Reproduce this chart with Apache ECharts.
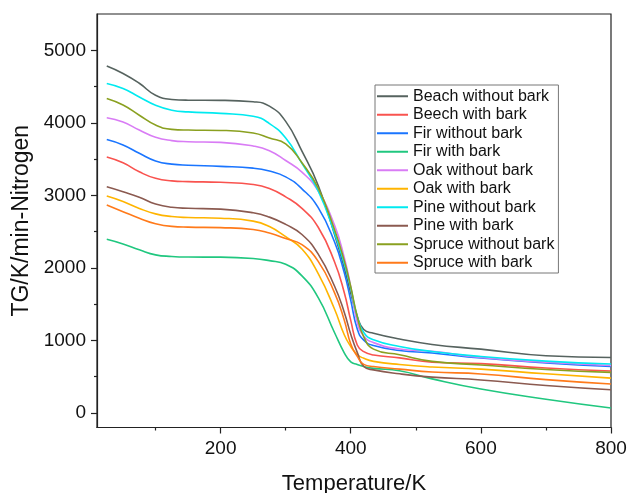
<!DOCTYPE html>
<html><head><meta charset="utf-8">
<script src="https://cdn.jsdelivr.net/npm/echarts@6/dist/echarts.min.js"></script>
<style>html,body{margin:0;padding:0;background:#fff}#c{width:627px;height:493px}</style>
</head><body><div id="c"></div>
<script>
// Temperature grid (K)
const temps = [25,50,75,100,125,150,200,250,275,300,325,350,375,390,400,410,420,435,475,525,600,700,800];

const seriesNames = ['Beach without bark','Beech with bark','Fir without bark','Fir with bark','Oak without bark','Oak with bark','Pine without bark','Pine with bark','Spruce without bark','Spruce with bark'];

const beachWithoutBark  = [4783,4680,4545,4380,4322,4312,4310,4290,4230,4020,3610,3137,2465,2003,1650,1330,1150,1100,1020,945,880,790,765];
const beechWithBark     = [3530,3450,3325,3235,3200,3190,3180,3150,3095,2980,2820,2560,2085,1660,1276,938,846,800,760,700,680,620,578];
const firWithoutBark    = [3770,3695,3580,3475,3430,3415,3400,3375,3335,3255,3090,2830,2360,1935,1552,1157,1004,930,862,826,757,690,641];
const firWithBark       = [2394,2330,2250,2180,2158,2150,2148,2130,2100,2050,1890,1590,1110,830,705,668,640,615,582,470,330,190,69];
const oakWithoutBark    = [4070,4010,3900,3800,3755,3740,3730,3680,3615,3480,3320,3060,2590,2145,1740,1250,1060,970,881,850,765,700,655];
const oakWithBark       = [2990,2915,2820,2745,2708,2695,2685,2645,2570,2430,2260,1920,1434,1078,917,805,754,712,668,635,605,540,481];
const pineWithoutBark   = [4541,4472,4357,4243,4174,4151,4130,4090,3990,3790,3440,3060,2480,2060,1720,1330,1110,1010,917,848,779,715,675];
const pineWithBark      = [3118,3050,2975,2880,2835,2822,2810,2760,2700,2600,2460,2190,1750,1390,1085,835,640,594,540,495,455,380,321];
const spruceWithoutBark = [4335,4245,4105,3970,3910,3900,3895,3860,3790,3710,3450,3100,2530,2100,1740,1330,1050,880,802,712,662,600,560];
const spruceWithBark    = [2866,2775,2685,2610,2572,2562,2555,2530,2480,2405,2320,2090,1660,1282,950,780,670,640,605,565,538,460,399];

const allValues = [beachWithoutBark,beechWithBark,firWithoutBark,firWithBark,oakWithoutBark,oakWithBark,pineWithoutBark,pineWithBark,spruceWithoutBark,spruceWithBark];
const colors = ['#56635f','#f9534f','#1a75ff','#20c77f','#d97cf5','#ffb400','#00eaf0','#8b5a50','#8aa020','#ff7a1a'];

const xTickLabels = [200,400,600,800];
const xMinorTicks = [100,300,500,700];
const yTickLabels = [0,1000,2000,3000,4000,5000];
const yMinorTicks = [500,1500,2500,3500,4500];

const FONT = "'Liberation Sans', Arial, sans-serif";
const chart = echarts.init(document.getElementById('c'));

const axisLineStyle = {color:'#222', width:1.2};
const plain = v => String(v);

chart.setOption({
  animation:false,
  backgroundColor:'#fff',
  grid:{left:97, right:16, top:14, bottom:65.5, containLabel:false, outerBoundsMode:'none',
        show:true, borderColor:'#222', borderWidth:1.2, backgroundColor:'transparent'},
  legend:{
    orient:'vertical', left:375, top:85,
    padding:[3,4,2,2],
    borderColor:'#777', borderWidth:1,
    backgroundColor:'#fff',
    icon:'rect',
    itemWidth:31, itemHeight:2, itemGap:2,
    textStyle:{fontFamily:FONT, fontSize:16, color:'#111', lineHeight:16.5},
    data:seriesNames
  },
  xAxis:[{
    type:'value', min:10, max:800, position:'bottom',
    name:'Temperature/K', nameLocation:'middle', nameGap:45,
    nameTextStyle:{fontFamily:FONT, fontSize:22, color:'#111'},
    axisLine:{show:true, onZero:false, lineStyle:axisLineStyle},
    axisTick:{show:true, inside:false, length:6, lineStyle:axisLineStyle, customValues:xTickLabels},
    axisLabel:{show:true, fontFamily:FONT, fontSize:19, color:'#111', margin:12, customValues:xTickLabels, formatter:plain},
    splitLine:{show:false}
  },{
    type:'value', min:10, max:800, position:'bottom',
    axisLine:{show:false, onZero:false},
    axisTick:{show:true, length:3, lineStyle:axisLineStyle, customValues:xMinorTicks},
    axisLabel:{show:false},
    splitLine:{show:false}
  }],
  yAxis:[{
    type:'value', min:-200, max:5500, position:'left',
    name:'TG/K/min-Nitrogen', nameLocation:'middle', nameGap:63,
    nameTextStyle:{fontFamily:FONT, fontSize:23, color:'#111'},
    axisLine:{show:true, onZero:false, lineStyle:axisLineStyle},
    axisTick:{show:true, length:6, lineStyle:axisLineStyle, customValues:yTickLabels},
    axisLabel:{show:true, fontFamily:FONT, fontSize:19, color:'#111', margin:11, customValues:yTickLabels, formatter:plain},
    splitLine:{show:false}
  },{
    type:'value', min:-200, max:5500, position:'left',
    axisLine:{show:false, onZero:false},
    axisTick:{show:true, length:3, lineStyle:axisLineStyle, customValues:yMinorTicks},
    axisLabel:{show:false},
    splitLine:{show:false}
  }],
  series: seriesNames.map((name,k)=>({
    name, type:'line', xAxisIndex:0, yAxisIndex:0,
    data: temps.map((t,i)=>[t, allValues[k][i]]),
    symbol:'none', smooth:0.5,
    lineStyle:{color:colors[k], width:1.6},
    itemStyle:{color:colors[k]},
    z:2+k
  }))
});
</script></body></html>
